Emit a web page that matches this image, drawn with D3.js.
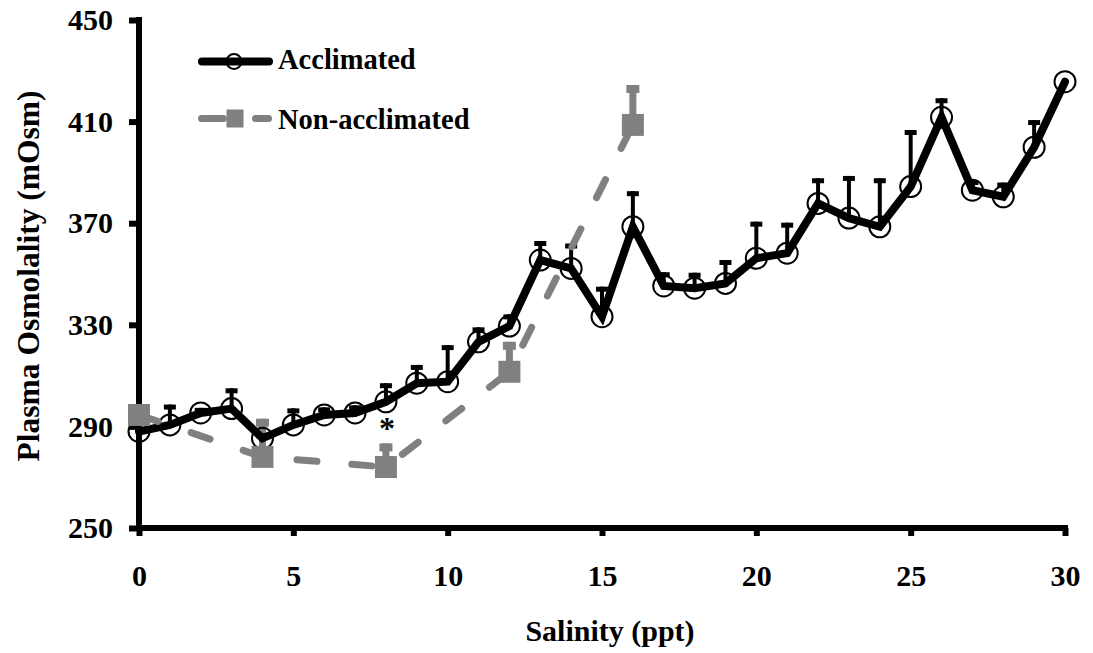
<!DOCTYPE html>
<html>
<head>
<meta charset="utf-8">
<script src="https://cdnjs.cloudflare.com/ajax/libs/d3/7.8.5/d3.min.js"></script>
<style>
  html, body { margin: 0; padding: 0; background: #fff; }
</style>
</head>
<body>
<svg id="chart" width="1093" height="653"></svg>
<script>
// ---------- data ----------
const salinity = [0,1,2,3,4,5,6,7,8,9,10,11,12,13,14,15,16,17,18,19,20,21,22,23,24,25,26,27,28,29,30];
const acclimatedMean = [288, 290.6, 295.3, 297, 285.3, 290.6, 294.5, 295.3, 299.7, 307, 307.6, 323.3, 329.5, 355.5, 352.2, 333.2, 368.6, 345.3, 344.4, 346.3, 356.2, 358.2, 377.8, 372, 368.6, 384.4, 411.7, 383, 380.4, 399.9, 425.7];
const acclimatedSE   = [0, 8, 2, 8, 2, 6.5, 3, 3, 7.3, 7.2, 14.4, 5.7, 4.6, 7.5, 9.8, 11.8, 14, 5.4, 6.1, 9.2, 14.4, 12, 9.9, 16.6, 19.1, 22.3, 7.5, 4, 5.6, 10.7, 0];
const nonAccSalinity = [0, 4, 8, 12, 16];
const nonAccMean     = [294.5, 278, 274, 311.5, 408.7];
const nonAccSE       = [3, 15, 9.3, 11.8, 15.7];
const xTicks = [0, 5, 10, 15, 20, 25, 30];
const yTicks = [250, 290, 330, 370, 410, 450];
const significant = [8];   // asterisk positions
const seriesNames = ["Acclimated", "Non-acclimated"];
const xTitle = "Salinity (ppt)";
const yTitle = "Plasma Osmolality (mOsm)";

// ---------- setup ----------
const FONT = "'Liberation Serif', Tinos, 'Times New Roman', Times, 'Nimbus Roman', FreeSerif, 'DejaVu Serif', serif";
const svg = d3.select("#chart");
const x = d3.scaleLinear().domain([0, 30]).range([139, 1065]);
const y = d3.scaleLinear().domain([250, 450]).range([528, 20]);
const GRAY = "#808080";
const FS = 30;

const acc = salinity.map((s, i) => ({ s, m: acclimatedMean[i], e: acclimatedSE[i] }));
const non = nonAccSalinity.map((s, i) => ({ s, m: nonAccMean[i], e: nonAccSE[i] }));

function styleText(sel, size) {
  sel.attr("font-family", FONT).style("font-family", FONT)
     .attr("font-weight", "bold").style("font-weight", "bold")
     .style("font-size", size + "px").attr("fill", "#000");
}

// ---------- axes ----------
const xAxis = svg.append("g").attr("transform", `translate(0,${y(250)})`)
  .call(d3.axisBottom(x).tickValues(xTicks).tickSize(8).tickSizeOuter(0).tickPadding(29));
xAxis.select(".domain").remove();
xAxis.selectAll(".tick line").attr("stroke", "#000").attr("stroke-width", 6);
styleText(xAxis.selectAll(".tick text"), FS);

const yAxis = svg.append("g").attr("transform", `translate(${x(0)},0)`)
  .call(d3.axisLeft(y).tickValues(yTicks).tickSize(10).tickSizeOuter(0).tickPadding(16));
yAxis.select(".domain").remove();
yAxis.selectAll(".tick line").attr("stroke", "#000").attr("stroke-width", 6);
styleText(yAxis.selectAll(".tick text"), FS);

svg.append("line").attr("x1", x(0)).attr("x2", x(0)).attr("y1", y(450) - 3).attr("y2", y(250) + 3)
  .attr("stroke", "#000").attr("stroke-width", 6);
svg.append("line").attr("x1", x(0) - 3).attr("x2", x(30) + 3).attr("y1", y(250)).attr("y2", y(250))
  .attr("stroke", "#000").attr("stroke-width", 6);

// axis titles
styleText(svg.append("text").attr("x", (x(0) + x(30)) / 2 + 8).attr("y", 641)
  .attr("text-anchor", "middle").text(xTitle), FS);
styleText(svg.append("text").attr("transform", `translate(39,${(y(250) + y(450)) / 2 + 2}) rotate(-90)`)
  .attr("text-anchor", "middle").text(yTitle), 31.5);

// ---------- non-acclimated error bars (under black line) ----------
const nb = svg.append("g");
non.forEach(d => {
  nb.append("line").attr("x1", x(d.s)).attr("x2", x(d.s)).attr("y1", y(d.m)).attr("y2", y(d.m + d.e))
    .attr("stroke", GRAY).attr("stroke-width", 7);
  nb.append("line").attr("x1", x(d.s) - 6.5).attr("x2", x(d.s) + 6.5)
    .attr("y1", y(d.m + d.e) + 4).attr("y2", y(d.m + d.e) + 4)
    .attr("stroke", GRAY).attr("stroke-width", 8);
});

// ---------- acclimated series ----------
const ab = svg.append("g");
acc.filter(d => d.e > 0).forEach(d => {
  ab.append("line").attr("x1", x(d.s)).attr("x2", x(d.s)).attr("y1", y(d.m)).attr("y2", y(d.m + d.e))
    .attr("stroke", "#000").attr("stroke-width", 4);
  ab.append("line").attr("x1", x(d.s) - 6).attr("x2", x(d.s) + 6)
    .attr("y1", y(d.m + d.e) + 2.5).attr("y2", y(d.m + d.e) + 2.5)
    .attr("stroke", "#000").attr("stroke-width", 5);
});
const line = d3.line().x(d => x(d.s)).y(d => y(d.m));
svg.append("path").datum(acc).attr("d", line).attr("fill", "none")
  .attr("stroke", "#000").attr("stroke-width", 8).attr("stroke-linejoin", "miter").attr("stroke-linecap", "round");
svg.append("g").selectAll("circle").data(acc).join("circle")
  .attr("cx", d => x(d.s)).attr("cy", d => y(d.m)).attr("r", 10.5)
  .attr("fill", "none").attr("stroke", "#000").attr("stroke-width", 2);

// ---------- non-acclimated line + markers ----------
svg.append("path").datum(non).attr("d", line).attr("fill", "none")
  .attr("stroke", GRAY).attr("stroke-width", 7).attr("stroke-dasharray", "20,35")
  .attr("stroke-linecap", "round").attr("stroke-linejoin", "round");
svg.append("g").selectAll("rect").data(non).join("rect")
  .attr("x", d => x(d.s) - 11).attr("y", d => y(d.m) - 11).attr("width", 22).attr("height", 22)
  .attr("fill", GRAY);

// significance asterisk
styleText(svg.append("g").selectAll("text").data(significant).join("text")
  .attr("x", d => x(d) + 1).attr("y", d => y(nonAccMean[nonAccSalinity.indexOf(d)] + nonAccSE[nonAccSalinity.indexOf(d)]) - 4)
  .attr("text-anchor", "middle").text("*"), 32);

// ---------- legend ----------
const lg = svg.append("g");
lg.append("line").attr("x1", 202).attr("x2", 269).attr("y1", 61.5).attr("y2", 61.5)
  .attr("stroke", "#000").attr("stroke-width", 8).attr("stroke-linecap", "round");
lg.append("circle").attr("cx", 234).attr("cy", 61.5).attr("r", 7.5).attr("fill", "none").attr("stroke", "#000").attr("stroke-width", 2);
styleText(lg.append("text").attr("x", 278).attr("y", 68.5).text(seriesNames[0]), 28.5);
lg.append("line").attr("x1", 201.5).attr("x2", 268.5).attr("y1", 118.5).attr("y2", 118.5)
  .attr("stroke", GRAY).attr("stroke-width", 7).attr("stroke-dasharray", "22,32").attr("stroke-linecap", "round");
lg.append("rect").attr("x", 226.5).attr("y", 109.5).attr("width", 17).attr("height", 18).attr("fill", GRAY);
styleText(lg.append("text").attr("x", 278).attr("y", 128.5).text(seriesNames[1]), 28.5);
</script>
</body>
</html>
